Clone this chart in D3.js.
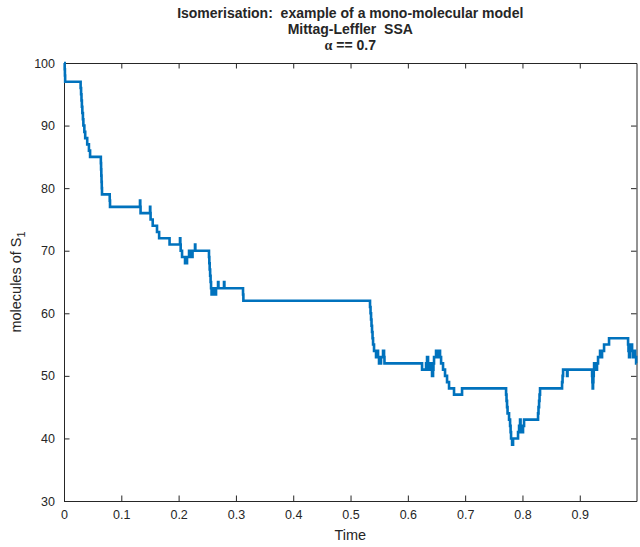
<!DOCTYPE html>
<html>
<head>
<meta charset="utf-8">
<script src="https://cdn.jsdelivr.net/npm/d3@7"></script>
<style>
  html, body { margin: 0; padding: 0; background: #fff; }
  svg text { font-family: "Liberation Sans", Arial, sans-serif; fill: #262626; white-space: pre; }
</style>
</head>
<body>
<svg id="chart" width="640" height="547"></svg>
<script>
// Event times of the Mittag-Leffler SSA run and the S1 count after each event
const eventTimes = [
  0, 0.0012, 0.0016, 0.002, 0.029, 0.0298, 0.0305, 0.0312, 0.032, 0.033,
  0.0338, 0.0355, 0.037, 0.0405, 0.0435, 0.0455, 0.0643, 0.0647, 0.0651, 0.0655,
  0.0659, 0.0663, 0.0798, 0.0803, 0.1326, 0.1331, 0.1336, 0.1501, 0.1506, 0.1511,
  0.1548, 0.1623, 0.166, 0.1842, 0.2024, 0.203, 0.2036, 0.206, 0.2112, 0.2147,
  0.2182, 0.2217, 0.2243, 0.2286, 0.2292, 0.253, 0.2536, 0.2542, 0.255, 0.2558,
  0.2566, 0.2575, 0.2618, 0.2626, 0.2653, 0.2688, 0.2695, 0.2792, 0.2799, 0.3124,
  0.313, 0.534, 0.5349, 0.5358, 0.5366, 0.5375, 0.5384, 0.5393, 0.541, 0.5445,
  0.5463, 0.548, 0.5497, 0.5532, 0.5567, 0.5585, 0.5592, 0.6248, 0.6318, 0.6335,
  0.6353, 0.636, 0.637, 0.6405, 0.6422, 0.644, 0.6447, 0.6457, 0.6492, 0.6505,
  0.652, 0.6562, 0.658, 0.6614, 0.6649, 0.6684, 0.6719, 0.6736, 0.6806, 0.6946,
  0.7714, 0.7722, 0.7731, 0.774, 0.7766, 0.7784, 0.7793, 0.7801, 0.7819, 0.7836,
  0.7923, 0.7941, 0.7958, 0.7967, 0.7976, 0.801, 0.8028, 0.8272, 0.828, 0.829,
  0.8298, 0.8307, 0.8691, 0.87, 0.8709, 0.8778, 0.8787, 0.9215, 0.922, 0.9225,
  0.9232, 0.9238, 0.9244, 0.925, 0.9284, 0.9301, 0.9319, 0.9354, 0.9371, 0.9389,
  0.9424, 0.9511, 0.9843, 0.985, 0.986, 0.9878, 0.9895, 0.9913, 0.993, 0.9948,
  0.9965, 0.9983, 0.999
];
const s1Counts = [
  100, 99, 98, 97, 96, 95, 94, 93, 92, 91,
  90, 89, 88, 87, 86, 85, 84, 83, 82, 81,
  80, 79, 78, 77, 78, 77, 76, 77, 76, 75,
  74, 73, 72, 71, 72, 71, 70, 69, 68, 69,
  70, 69, 70, 71, 70, 69, 68, 67, 66, 65,
  64, 63, 64, 63, 64, 65, 64, 65, 64, 63,
  62, 61, 60, 59, 58, 57, 56, 55, 54, 53,
  54, 53, 52, 53, 54, 53, 52, 51, 52, 53,
  52, 51, 52, 51, 50, 51, 52, 53, 54, 53,
  54, 53, 52, 51, 50, 49, 48, 48, 47, 48,
  47, 46, 45, 44, 43, 42, 41, 40, 39, 40,
  41, 42, 43, 42, 41, 42, 43, 44, 45, 46,
  47, 48, 49, 50, 51, 50, 51, 50, 49, 48,
  49, 50, 51, 52, 51, 52, 53, 54, 53, 54,
  55, 56, 55, 54, 53, 54, 55, 54, 53, 54,
  53, 52, 52
];

const xTicks = [0, 0.1, 0.2, 0.3, 0.4, 0.5, 0.6, 0.7, 0.8, 0.9];
const yTicks = [30, 40, 50, 60, 70, 80, 90, 100];
const titleLines = ["Isomerisation:  example of a mono-molecular model", "Mittag-Leffler  SSA"];

const svg = d3.select("#chart");
const plotL = 64, plotR = 636.5, plotT = 63, plotB = 501;
const axisColor = "#262626";

const x = d3.scaleLinear().domain([0, 0.999]).range([plotL, plotR]);
const y = d3.scaleLinear().domain([30, 100]).range([plotB, plotT]);

const series = eventTimes.map((t, i) => ({ t, v: s1Counts[i] }));

// axes with inward ticks on all four sides (box on)
const tickLen = 5.5;
const gx = svg.append("g").attr("transform", `translate(0,${plotB})`)
  .call(d3.axisBottom(x).tickValues(xTicks).tickSizeInner(-tickLen).tickSizeOuter(0)
    .tickPadding(9).tickFormat(d => d === 0 ? "0" : d3.format(".1f")(d)));
const gxt = svg.append("g").attr("transform", `translate(0,${plotT})`)
  .call(d3.axisTop(x).tickValues(xTicks).tickSizeInner(-tickLen).tickSizeOuter(0).tickFormat(""));
const gy = svg.append("g").attr("transform", `translate(${plotL},0)`)
  .call(d3.axisLeft(y).tickValues(yTicks).tickSizeInner(-tickLen).tickSizeOuter(0).tickPadding(9));
const gyr = svg.append("g").attr("transform", `translate(${plotR},0)`)
  .call(d3.axisRight(y).tickValues(yTicks).tickSizeInner(-tickLen).tickSizeOuter(0).tickFormat(""));

[gx, gxt, gy, gyr].forEach(g => {
  g.select(".domain").attr("stroke", axisColor).attr("stroke-width", 1);
  g.selectAll(".tick line").attr("stroke", axisColor).attr("stroke-width", 1);
  g.selectAll(".tick text").attr("font-size", 12.5).attr("fill", axisColor)
    .style("font-family", '"Liberation Sans", Arial, sans-serif');
});

// step trajectory
const line = d3.line().x(d => x(d.t)).y(d => y(d.v)).curve(d3.curveStepAfter);
svg.append("path").datum(series)
  .attr("fill", "none").attr("stroke", "#0072BD").attr("stroke-width", 2.6)
  .attr("stroke-linejoin", "miter").attr("d", line);

// titles
const cx = (plotL + plotR) / 2;
titleLines.forEach((s, i) => {
  svg.append("text").attr("x", cx).attr("y", 18 + i * 16)
    .attr("text-anchor", "middle").attr("font-size", 14).attr("font-weight", "bold").text(s);
});
const alphaLine = svg.append("text").attr("x", cx).attr("y", 50)
  .attr("text-anchor", "middle").attr("font-size", 14).attr("font-weight", "bold");
alphaLine.append("tspan").style("font-family", '"Liberation Serif", "Times New Roman", serif').text("α");
alphaLine.append("tspan").text(" == 0.7");

// axis labels
svg.append("text").attr("x", cx).attr("y", 540).attr("text-anchor", "middle")
  .attr("font-size", 14.5).text("Time");

const yl = svg.append("text").attr("transform", `translate(21,${(plotT + plotB) / 2}) rotate(-90)`)
  .attr("text-anchor", "middle").attr("font-size", 14.5);
yl.append("tspan").text("molecules of S");
yl.append("tspan").attr("font-size", 11).attr("dy", 4).text("1");
</script>
</body>
</html>
